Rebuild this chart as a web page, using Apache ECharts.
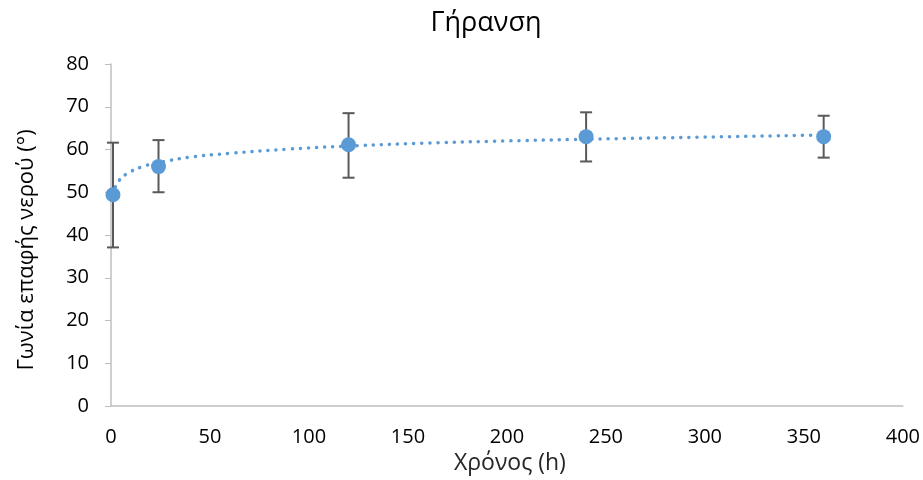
<!DOCTYPE html>
<html>
<head>
<meta charset="utf-8">
<script src="https://cdn.jsdelivr.net/npm/echarts@6/dist/echarts.min.js"></script>
<style>
  html, body { margin: 0; padding: 0; background: #fff; }
  #chart { width: 923px; height: 480px; }
</style>
</head>
<body>
<div id="chart"></div>
<script>
// measured points (time in h, contact angle in degrees)
const hours = [1, 24, 120, 240, 360]
const angle = [49.4, 56.0, 61.1, 63.0, 63.0]
const errLow = [37.1, 50.0, 53.4, 57.2, 58.1]
const errHigh = [61.6, 62.2, 68.5, 68.7, 67.9]

// dotted trendline
const trendX = [1, 2, 4, 8, 16, 24, 40, 60, 90, 120, 160, 200, 240, 300, 360]
const trendY = [49.4, 51.0, 52.7, 54.3, 56.0, 56.9, 58.2, 59.1, 60.1, 60.8, 61.5, 62.0, 62.4, 62.9, 63.4]

const xTicks = [0, 50, 100, 150, 200, 250, 300, 350, 400]
const yTicks = [0, 10, 20, 30, 40, 50, 60, 70, 80]

const font = "Open Sans"
const blue = "#5B9BD5"
const gray = "#595959"

const myChart = echarts.init(document.getElementById("chart"))

let option = {
  animation: false,
  title: {
    text: "Γήρανση",
    left: 481,
    top: 5,
    textAlign: "center",
    textStyle: { fontFamily: font, fontSize: 27, fontWeight: "normal", color: "#000" }
  },
  grid: { left: 111, right: 18, top: 64, bottom: 73 },
  xAxis: {
    type: "value",
    min: xTicks[0],
    max: xTicks[xTicks.length - 1],
    interval: 50,
    name: "Χρόνος (h)",
    nameLocation: "middle",
    nameGap: 46,
    nameTextStyle: { fontFamily: font, fontSize: 23, color: "#262626", padding: [0, 0, 0, 6] },
    axisLine: { lineStyle: { color: "#bfbfbf", width: 1.5 } },
    axisTick: { show: false },
    axisLabel: { fontFamily: font, fontSize: 20, color: "#000", margin: 21 },
    splitLine: { show: false }
  },
  yAxis: {
    type: "value",
    min: yTicks[0],
    max: yTicks[yTicks.length - 1],
    interval: 10,
    name: "Γωνία επαφής νερού (°)",
    nameLocation: "middle",
    nameGap: 73,
    nameTextStyle: { fontFamily: font, fontSize: 22, color: "#000", padding: [0, 30, 0, 0] },
    axisLine: { show: true, lineStyle: { color: "#bfbfbf", width: 1.5 } },
    axisTick: { show: true, length: 6, lineStyle: { color: "#bfbfbf" } },
    axisLabel: { fontFamily: font, fontSize: 20, color: "#000", margin: 22 },
    splitLine: { show: false }
  },
  series: [
    {
      type: "line",
      data: trendX.map((x, i) => [x, trendY[i]]),
      smooth: true,
      symbol: "none",
      lineStyle: { color: blue, width: 3.5, type: [0.1, 8], cap: "round" },
      z: 2
    },
    {
      type: "custom",
      data: hours.map((x, i) => [x, errLow[i], errHigh[i]]),
      renderItem: function (params, api) {
        const lo = api.coord([api.value(0), api.value(1)])
        const hi = api.coord([api.value(0), api.value(2)])
        const w = 6
        const style = { stroke: gray, lineWidth: 2 }
        return {
          type: "group",
          children: [
            { type: "line", shape: { x1: lo[0], y1: lo[1], x2: hi[0], y2: hi[1] }, style },
            { type: "line", shape: { x1: hi[0] - w, y1: hi[1], x2: hi[0] + w, y2: hi[1] }, style },
            { type: "line", shape: { x1: lo[0] - w, y1: lo[1], x2: lo[0] + w, y2: lo[1] }, style }
          ]
        }
      },
      z: 3
    },
    {
      type: "scatter",
      data: hours.map((x, i) => [x, angle[i]]),
      symbol: "circle",
      symbolSize: 15,
      itemStyle: { color: blue, opacity: 1 },
      z: 4
    }
  ]
}

myChart.setOption(option)
window.addEventListener("resize", function () {
  myChart.resize()
})
</script>
</body>
</html>
